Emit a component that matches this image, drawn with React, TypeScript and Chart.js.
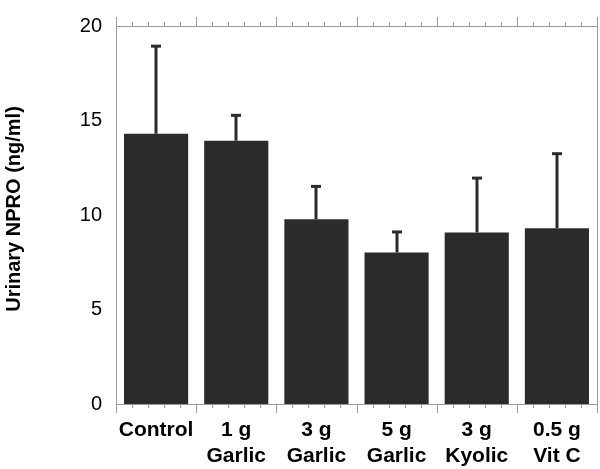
import React, { useEffect, useRef } from "react";
import { Chart, registerables } from "chart.js";

Chart.register(...registerables);

const categories: string[][] = [
  ["Control"],
  ["1 g", "Garlic"],
  ["3 g", "Garlic"],
  ["5 g", "Garlic"],
  ["3 g", "Kyolic"],
  ["0.5 g", "Vit C"],
];
const means = [14.3, 13.93, 9.78, 8.02, 9.08, 9.3];
const upperErrors = [4.66, 1.37, 1.76, 1.11, 2.9, 3.97];
const yTicks = [0, 5, 10, 15, 20];
const yTitle = "Urinary NPRO (ng/ml)";

const BAR_COLOR = "#2b2b2b";
const FRAME_COLOR = "#9a9a9a";
const FONT = "Arial, 'Liberation Sans'";

const errorBarPlugin = {
  id: "errorBars",
  afterDatasetsDraw(chart: any) {
    const ctx = chart.ctx;
    const meta = chart.getDatasetMeta(0);
    const yScale = chart.scales.y;
    ctx.save();
    ctx.strokeStyle = BAR_COLOR;
    ctx.lineWidth = 3;
    ctx.lineCap = "butt";
    meta.data.forEach((bar: any, i: number) => {
      const x = Math.round(bar.x);
      const yBase = yScale.getPixelForValue(means[i]);
      const yTop = yScale.getPixelForValue(means[i] + upperErrors[i]);
      ctx.beginPath();
      ctx.moveTo(x, yBase);
      ctx.lineTo(x, yTop);
      ctx.stroke();
      ctx.beginPath();
      ctx.moveTo(x - 5, yTop + 0.5);
      ctx.lineTo(x + 5, yTop + 0.5);
      ctx.stroke();
    });
    ctx.restore();
  },
  afterDraw(chart: any) {
    const ctx = chart.ctx;
    const { left, right, top, bottom } = chart.chartArea;
    const xScale = chart.scales.x;
    ctx.save();
    ctx.strokeStyle = FRAME_COLOR;
    ctx.lineWidth = 1;
    ctx.beginPath();
    ctx.moveTo(left + 0.5, bottom + 0.5);
    ctx.lineTo(left + 0.5, top + 0.5);
    ctx.lineTo(right + 0.5, top + 0.5);
    ctx.lineTo(right + 0.5, bottom + 0.5);
    ctx.lineTo(left + 0.5, bottom + 0.5);
    ctx.stroke();
    const n = categories.length;
    for (let i = 0; i < n; i++) {
      const c = xScale.getPixelForValue(i);
      const w = xScale.getPixelForValue(1) - xScale.getPixelForValue(0);
      const start = c - w / 2;
      for (let k = 0; k <= 5; k++) {
        if (k === 5 && i < n - 1) continue;
        const px = Math.round(start + (w * k) / 5) + 0.5;
        const major = k === 0 || k === 5;
        const len = major ? 9 : 4;
        ctx.beginPath();
        ctx.moveTo(px, bottom);
        ctx.lineTo(px, bottom + len);
        ctx.moveTo(px, top + 1);
        ctx.lineTo(px, top - len);
        ctx.stroke();
      }
    }
    // y-axis title
    ctx.fillStyle = "#000";
    ctx.font = `bold 20px ${FONT}`;
    ctx.textAlign = "center";
    ctx.textBaseline = "middle";
    ctx.translate(14, (top + bottom) / 2 - 6);
    ctx.rotate(-Math.PI / 2);
    ctx.fillText(yTitle, 0, 0);
    ctx.restore();
  },
};

export default function App() {
  const ref = useRef<HTMLCanvasElement | null>(null);
  useEffect(() => {
    document.body.style.margin = "0";
    const canvas = ref.current!;
    const chart = new Chart(canvas, {
      type: "bar",
      data: {
        labels: categories,
        datasets: [
          {
            data: means,
            backgroundColor: BAR_COLOR,
            borderWidth: 0,
            barPercentage: 1.0,
            categoryPercentage: 0.8,
          },
        ],
      },
      options: {
        responsive: false,
        animation: false,
        devicePixelRatio: 1,
        layout: { padding: { top: 14, right: 3, left: 0, bottom: 0 } },
        plugins: { legend: { display: false }, tooltip: { enabled: false } },
        scales: {
          x: {
            grid: { display: false, drawTicks: false },
            border: { display: false },
            ticks: {
              color: "#000",
              padding: 13,
              maxRotation: 0,
              autoSkip: false,
              font: { family: FONT, size: 21, weight: "bold", lineHeight: 1.25 },
            },
            afterFit(scale: any) {
              scale.height = 65;
            },
          },
          y: {
            min: 0,
            max: 20,
            grid: { display: false, drawTicks: false },
            border: { display: false },
            afterBuildTicks(scale: any) {
              scale.ticks = yTicks.map((v) => ({ value: v }));
            },
            ticks: {
              color: "#000",
              padding: 14,
              font: { family: FONT, size: 20 },
            },
            title: { display: false },
            afterFit(scale: any) {
              scale.width = 116;
            },
          },
        },
      },
      plugins: [errorBarPlugin],
    });
    return () => chart.destroy();
  }, []);
  return <canvas ref={ref} width={600} height={469} style={{ display: "block" }} />;
}
